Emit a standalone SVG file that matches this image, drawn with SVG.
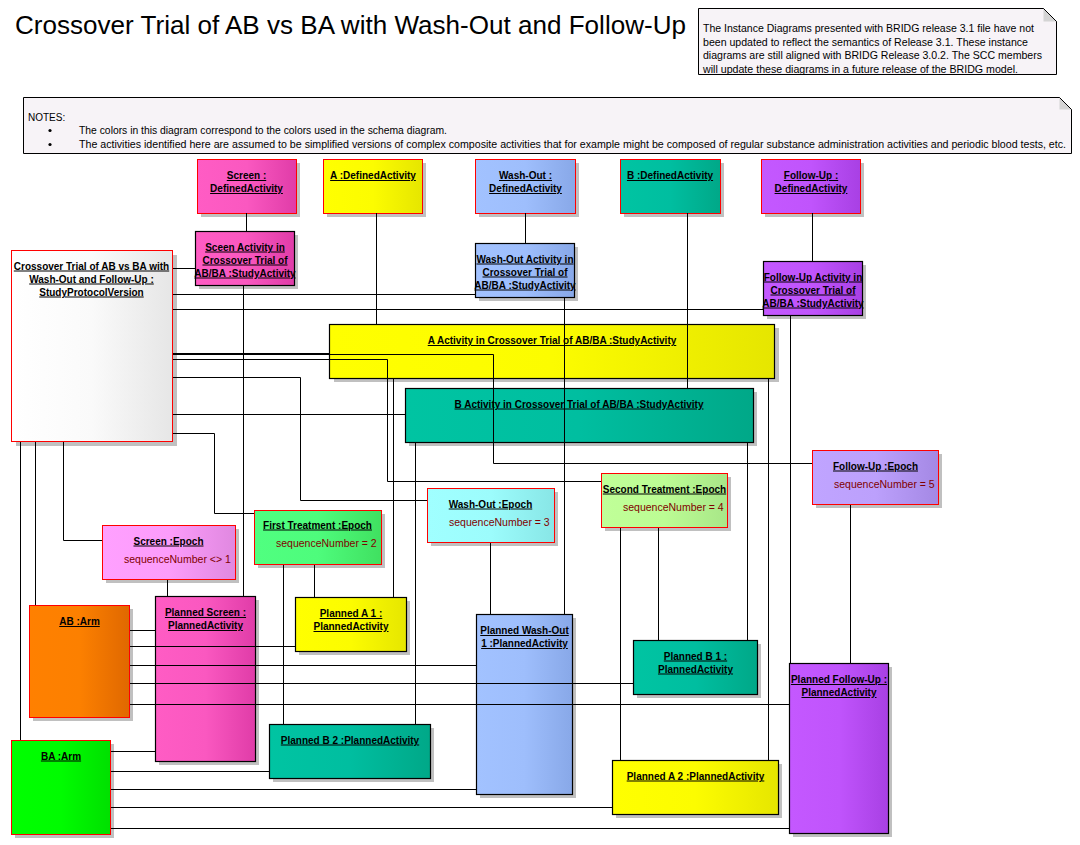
<svg xmlns="http://www.w3.org/2000/svg" width="1080" height="845" viewBox="0 0 1080 845">
<style>
text{font-family:"Liberation Sans",Arial,sans-serif}
.title{font-size:26px;fill:#000}
.note{font-size:10.5px;fill:#000}
.lbl{font-size:10px;font-weight:bold;text-anchor:middle;text-decoration:underline;fill:#000}
.attr{font-size:10.5px;fill:#800000}
.sh{fill:#C0C0C0}
.rb{stroke:#FF0000;stroke-width:1}
.bb{stroke:#000;stroke-width:1.2}
.conn path{fill:none;stroke:#000;stroke-width:1}
</style>
<defs>
<linearGradient id="gPink"><stop offset="0" stop-color="#FF5CC4"/><stop offset="0.5" stop-color="#FA58C0"/><stop offset="1" stop-color="#E03CA8"/></linearGradient>
<linearGradient id="gYel"><stop offset="0" stop-color="#FFFF00"/><stop offset="0.5" stop-color="#FCFC00"/><stop offset="1" stop-color="#E6E600"/></linearGradient>
<linearGradient id="gBlue"><stop offset="0" stop-color="#A2C2FF"/><stop offset="0.5" stop-color="#9EBEFC"/><stop offset="1" stop-color="#88A8E8"/></linearGradient>
<linearGradient id="gTeal"><stop offset="0" stop-color="#00C4A2"/><stop offset="0.5" stop-color="#00BEA0"/><stop offset="1" stop-color="#00A888"/></linearGradient>
<linearGradient id="gPurp"><stop offset="0" stop-color="#C458FF"/><stop offset="0.5" stop-color="#C054FC"/><stop offset="1" stop-color="#A840E4"/></linearGradient>
<linearGradient id="gLav"><stop offset="0" stop-color="#C0A4FF"/><stop offset="0.5" stop-color="#BCA0FC"/><stop offset="1" stop-color="#A488E4"/></linearGradient>
<linearGradient id="gLPink"><stop offset="0" stop-color="#FFA0FF"/><stop offset="0.5" stop-color="#FC9CFA"/><stop offset="1" stop-color="#E088E0"/></linearGradient>
<linearGradient id="gGrn"><stop offset="0" stop-color="#50FF80"/><stop offset="0.5" stop-color="#4EFC7C"/><stop offset="1" stop-color="#40E060"/></linearGradient>
<linearGradient id="gCyan"><stop offset="0" stop-color="#A0FFFF"/><stop offset="0.5" stop-color="#9CFCFC"/><stop offset="1" stop-color="#88E6E6"/></linearGradient>
<linearGradient id="gLGrn"><stop offset="0" stop-color="#C0FF98"/><stop offset="0.5" stop-color="#BCFC94"/><stop offset="1" stop-color="#A8E688"/></linearGradient>
<linearGradient id="gOrg"><stop offset="0" stop-color="#FF8000"/><stop offset="0.5" stop-color="#FC8000"/><stop offset="1" stop-color="#E06800"/></linearGradient>
<linearGradient id="gBA"><stop offset="0" stop-color="#00FF00"/><stop offset="0.5" stop-color="#00FC00"/><stop offset="1" stop-color="#00E000"/></linearGradient>
<linearGradient id="gWht"><stop offset="0" stop-color="#FFFFFF"/><stop offset="0.5" stop-color="#FAFAFA"/><stop offset="1" stop-color="#E6E6E6"/></linearGradient>
</defs>
<rect x="0" y="0" width="1080" height="845" fill="#FFFFFF"/>

<text class="title" x="15" y="34" textLength="671" lengthAdjust="spacingAndGlyphs">Crossover Trial of AB vs BA with Wash-Out and Follow-Up</text>

<g id="note-release">
<polygon points="698.5,8.5 1043.5,8.5 1056.5,21.5 1056.5,74.5 698.5,74.5" fill="#F7F3F7" stroke="#000" stroke-width="1"/>
<polygon points="1043.5,8.5 1056.5,21.5 1043.5,21.5" fill="#D4D4D4"/>
<line x1="1043.5" y1="8.5" x2="1056.5" y2="21.5" stroke="#000" stroke-width="1"/>
<text class="note" x="703" y="32" textLength="331" lengthAdjust="spacingAndGlyphs">The Instance Diagrams presented with BRIDG release 3.1 file have not</text>
<text class="note" x="703" y="45.5" textLength="325" lengthAdjust="spacingAndGlyphs">been updated to reflect the semantics of Release 3.1. These instance</text>
<text class="note" x="703" y="59" textLength="339" lengthAdjust="spacingAndGlyphs">diagrams are still aligned with BRIDG Release 3.0.2. The SCC members</text>
<text class="note" x="703" y="72.5" textLength="315" lengthAdjust="spacingAndGlyphs">will update these diagrams in a future release of the BRIDG model.</text>
</g>

<g id="note-notes">
<polygon points="23.5,97.5 1059.5,97.5 1071.5,109.5 1071.5,153.5 23.5,153.5" fill="#F7F3F7" stroke="#000" stroke-width="1"/>
<polygon points="1059.5,97.5 1071.5,109.5 1059.5,109.5" fill="#D4D4D4"/>
<line x1="1059.5" y1="97.5" x2="1071.5" y2="109.5" stroke="#000" stroke-width="1"/>
<text class="note" x="28" y="121" style="font-size:10px">NOTES:</text>
<circle cx="50" cy="130.5" r="1.6" fill="#000"/>
<circle cx="50" cy="144.5" r="1.6" fill="#000"/>
<text class="note" x="79" y="134" style="font-size:10px" textLength="368" lengthAdjust="spacingAndGlyphs">The colors in this diagram correspond to the colors used in the schema diagram.</text>
<text class="note" x="79" y="148" style="font-size:10px" textLength="987" lengthAdjust="spacingAndGlyphs">The activities identified here are assumed to be simplified versions of complex composite activities that for example might be composed of regular substance administration activities and periodic blood tests, etc.</text>
</g>

<!-- Defined activities -->
<g id="screen-defined">
<rect class="sh" x="201" y="163" width="99" height="54"/>
<rect class="rb" x="197.5" y="159.5" width="99" height="54" fill="url(#gPink)"/>
<text class="lbl" x="246.5" y="179">Screen :</text>
<text class="lbl" x="246.5" y="192">DefinedActivity</text>
</g>
<g id="a-defined">
<rect class="sh" x="327" y="163" width="99" height="54"/>
<rect class="rb" x="323.5" y="159.5" width="99" height="54" fill="url(#gYel)"/>
<text class="lbl" x="373" y="179">A :DefinedActivity</text>
</g>
<g id="washout-defined">
<rect class="sh" x="479" y="163" width="100" height="54"/>
<rect class="rb" x="475.5" y="159.5" width="100" height="54" fill="url(#gBlue)"/>
<text class="lbl" x="525.5" y="179">Wash-Out :</text>
<text class="lbl" x="525.5" y="192">DefinedActivity</text>
</g>
<g id="b-defined">
<rect class="sh" x="624" y="163" width="100" height="54"/>
<rect class="rb" x="620.5" y="159.5" width="100" height="54" fill="url(#gTeal)"/>
<text class="lbl" x="670" y="179">B :DefinedActivity</text>
</g>
<g id="followup-defined">
<rect class="sh" x="765" y="163" width="99" height="54"/>
<rect class="rb" x="761.5" y="159.5" width="99" height="54" fill="url(#gPurp)"/>
<text class="lbl" x="811" y="179">Follow-Up :</text>
<text class="lbl" x="811" y="192">DefinedActivity</text>
</g>

<!-- Study activities -->
<g id="screen-study">
<rect class="sh" x="199" y="235" width="99" height="54"/>
<rect class="bb" x="195.5" y="231.5" width="99" height="54" fill="url(#gPink)"/>
<text class="lbl" x="245" y="250.5">Sceen Activity in</text>
<text class="lbl" x="245" y="263.5">Crossover Trial of</text>
<text class="lbl" x="245" y="276.5">AB/BA :StudyActivity</text>
</g>
<g id="washout-study">
<rect class="sh" x="479" y="247" width="99" height="54"/>
<rect class="bb" x="475.5" y="243.5" width="99" height="54" fill="url(#gBlue)"/>
<text class="lbl" x="525" y="262.5">Wash-Out Activity in</text>
<text class="lbl" x="525" y="275.5">Crossover Trial of</text>
<text class="lbl" x="525" y="288.5">AB/BA :StudyActivity</text>
</g>
<g id="followup-study">
<rect class="sh" x="767" y="265" width="99" height="54"/>
<rect class="bb" x="763.5" y="261.5" width="99" height="54" fill="url(#gPurp)"/>
<text class="lbl" x="813" y="280.5">Follow-Up Activity in</text>
<text class="lbl" x="813" y="293.5">Crossover Trial of</text>
<text class="lbl" x="813" y="306.5">AB/BA :StudyActivity</text>
</g>
<g id="protocol">
<rect class="sh" x="16" y="255" width="161" height="191"/>
<rect class="rb" x="11.5" y="250.5" width="161" height="191" fill="url(#gWht)"/>
<text class="lbl" x="91.5" y="269.5">Crossover Trial of AB vs BA with</text>
<text class="lbl" x="91.5" y="282.5">Wash-Out and Follow-Up :</text>
<text class="lbl" x="91.5" y="295.5">StudyProtocolVersion</text>
</g>
<g id="a-study">
<rect class="sh" x="334" y="328" width="445" height="54"/>
<rect class="bb" x="329.5" y="324.5" width="445" height="54" fill="url(#gYel)"/>
<text class="lbl" x="552" y="344">A Activity in Crossover Trial of AB/BA :StudyActivity</text>
</g>
<g id="b-study">
<rect class="sh" x="409" y="392" width="348" height="54"/>
<rect class="bb" x="405.5" y="388.5" width="348" height="54" fill="url(#gTeal)"/>
<text class="lbl" x="579" y="407.5">B Activity in Crossover Trial of AB/BA :StudyActivity</text>
</g>

<!-- Epochs -->
<g id="screen-epoch">
<rect class="sh" x="106" y="529" width="133" height="54"/>
<rect class="rb" x="102.5" y="525.5" width="133" height="54" fill="url(#gLPink)"/>
<text class="lbl" x="168.5" y="544.5">Screen :Epoch</text>
<text class="attr" x="124" y="563">sequenceNumber &lt;&gt; 1</text>
</g>
<g id="first-epoch">
<rect class="sh" x="258" y="514" width="127" height="54"/>
<rect class="rb" x="254.5" y="510.5" width="127" height="54" fill="url(#gGrn)"/>
<text class="lbl" x="317.5" y="528.5">First Treatment :Epoch</text>
<text class="attr" x="276" y="546.5">sequenceNumber = 2</text>
</g>
<g id="washout-epoch">
<rect class="sh" x="431" y="492" width="127" height="54"/>
<rect class="rb" x="427.5" y="488.5" width="127" height="54" fill="url(#gCyan)"/>
<text class="lbl" x="490.5" y="507.5">Wash-Out :Epoch</text>
<text class="attr" x="449" y="525.5">sequenceNumber = 3</text>
</g>
<g id="second-epoch">
<rect class="sh" x="605" y="477" width="126" height="54"/>
<rect class="rb" x="601.5" y="473.5" width="126" height="54" fill="url(#gLGrn)"/>
<text class="lbl" x="664.5" y="492.5">Second Treatment :Epoch</text>
<text class="attr" x="623" y="510.5">sequenceNumber = 4</text>
</g>
<g id="followup-epoch">
<rect class="sh" x="816" y="454" width="126" height="54"/>
<rect class="rb" x="812.5" y="450.5" width="126" height="54" fill="url(#gLav)"/>
<text class="lbl" x="875.5" y="469.5">Follow-Up :Epoch</text>
<text class="attr" x="834" y="487.5">sequenceNumber = 5</text>
</g>

<!-- Arms -->
<g id="ab-arm">
<rect class="sh" x="33" y="609" width="100" height="112"/>
<rect class="rb" x="29.5" y="605.5" width="100" height="112" fill="url(#gOrg)"/>
<text class="lbl" x="79.5" y="625">AB :Arm</text>
</g>
<g id="ba-arm">
<rect class="sh" x="15" y="744" width="99" height="94"/>
<rect class="rb" x="11.5" y="740.5" width="99" height="94" fill="url(#gBA)"/>
<text class="lbl" x="61" y="759.5">BA :Arm</text>
</g>

<!-- Planned activities -->
<g id="planned-screen">
<rect class="sh" x="159" y="600" width="100" height="165"/>
<rect class="bb" x="155.5" y="596.5" width="100" height="165" fill="url(#gPink)"/>
<text class="lbl" x="205.5" y="616">Planned Screen :</text>
<text class="lbl" x="205.5" y="629">PlannedActivity</text>
</g>
<g id="planned-a1">
<rect class="sh" x="299" y="601" width="111" height="54"/>
<rect class="bb" x="295.5" y="597.5" width="111" height="54" fill="url(#gYel)"/>
<text class="lbl" x="351" y="617">Planned A 1 :</text>
<text class="lbl" x="351" y="630">PlannedActivity</text>
</g>
<g id="planned-b2">
<rect class="sh" x="273" y="728" width="161" height="54"/>
<rect class="bb" x="269.5" y="724.5" width="161" height="54" fill="url(#gTeal)"/>
<text class="lbl" x="350" y="743.5">Planned B 2 :PlannedActivity</text>
</g>
<g id="planned-washout">
<rect class="sh" x="480" y="618" width="96" height="180"/>
<rect class="bb" x="476.5" y="614.5" width="96" height="180" fill="url(#gBlue)"/>
<text class="lbl" x="524.5" y="634">Planned Wash-Out</text>
<text class="lbl" x="524.5" y="647">1 :PlannedActivity</text>
</g>
<g id="planned-b1">
<rect class="sh" x="637" y="644" width="124" height="54"/>
<rect class="bb" x="633.5" y="640.5" width="124" height="54" fill="url(#gTeal)"/>
<text class="lbl" x="695.5" y="659.5">Planned B 1 :</text>
<text class="lbl" x="695.5" y="672.5">PlannedActivity</text>
</g>
<g id="planned-a2">
<rect class="sh" x="616" y="764" width="166" height="54"/>
<rect class="bb" x="612.5" y="760.5" width="166" height="54" fill="url(#gYel)"/>
<text class="lbl" x="695.5" y="779.5">Planned A 2 :PlannedActivity</text>
</g>
<g id="planned-followup">
<rect class="sh" x="793" y="667" width="99" height="170"/>
<rect class="bb" x="789.5" y="663.5" width="99" height="170" fill="url(#gPurp)"/>
<text class="lbl" x="839" y="683">Planned Follow-Up :</text>
<text class="lbl" x="839" y="696">PlannedActivity</text>
</g>

<g id="connectors" class="conn">
<path d="M246.5 213V231"/>
<path d="M525.5 213V243"/>
<path d="M812.5 213V261"/>
<path d="M376.5 213V324"/>
<path d="M687.5 213V388"/>
<path d="M173 268.5H195"/>
<path d="M173 294.5H475"/>
<path d="M173 309.5H763"/>
<path d="M173 353.5H330"/>
<path d="M173 354.5H493.5V463.5H812"/>
<path d="M173 359.5H387.5V481.5H601"/>
<path d="M173 377.5H300.5V500.5H427"/>
<path d="M173 414.5H405"/>
<path d="M173 433.5H214.5V513.5H254"/>
<path d="M20.5 442V740"/>
<path d="M35.5 442V605"/>
<path d="M63.5 442V540.5H102"/>
<path d="M243.5 286V596"/>
<path d="M564.5 298V614"/>
<path d="M790.5 316V663"/>
<path d="M393.5 379V597"/>
<path d="M768.5 379V760"/>
<path d="M415.5 443V724"/>
<path d="M747.5 443V640"/>
<path d="M167.5 580V596"/>
<path d="M283.5 565V724"/>
<path d="M314.5 565V597"/>
<path d="M490.5 543V614"/>
<path d="M620.5 528V760"/>
<path d="M658.5 528V640"/>
<path d="M850.5 505V663"/>
<path d="M130 630.5H155"/>
<path d="M130 646.5H295"/>
<path d="M130 665.5H476"/>
<path d="M130 683.5H633"/>
<path d="M130 704.5H789"/>
<path d="M111 751.5H155"/>
<path d="M111 771.5H269"/>
<path d="M111 789.5H476"/>
<path d="M111 807.5H612"/>
<path d="M111 828.5H789"/>
</g>
</svg>
